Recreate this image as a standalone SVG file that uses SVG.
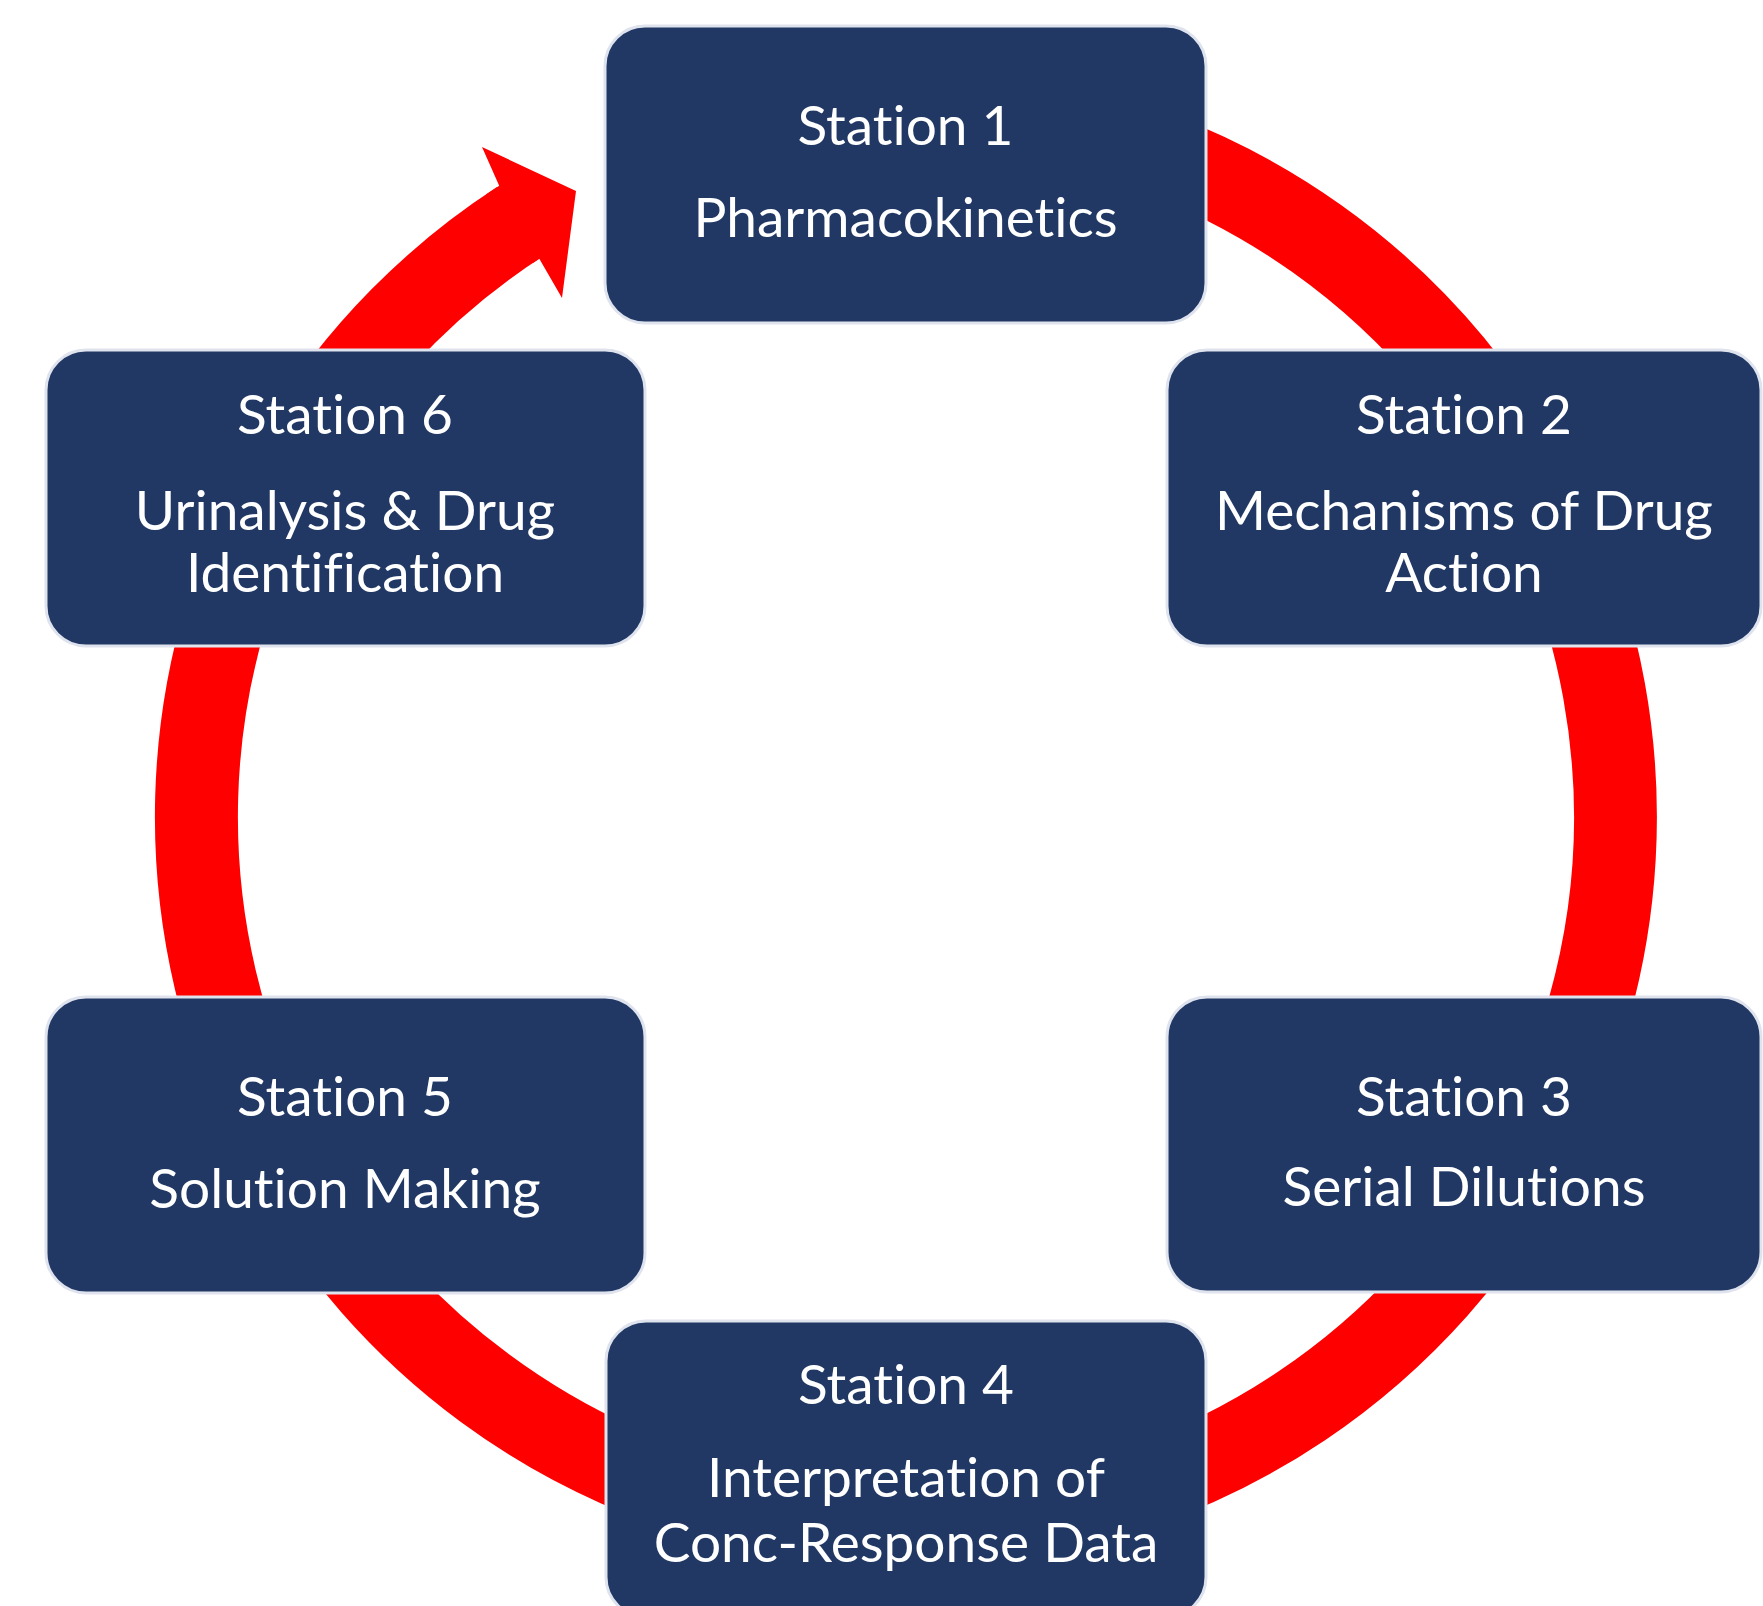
<svg xmlns="http://www.w3.org/2000/svg" width="1763" height="1606" viewBox="0 0 1763 1606">
<style>
.box{fill:#213865;stroke:#dfe3ee;stroke-width:3}
.t{font-family:Lato,"Liberation Sans",sans-serif;font-size:55px;fill:#ffffff;text-anchor:middle;font-variant-ligatures:none;font-feature-settings:"liga" 0}
</style>
<rect width="1763" height="1606" fill="#ffffff"/>
<g id="connectors">
<path d="M844.2,110.2 A709.5,709.5 0 1 1 519.6,221.9" fill="none" stroke="#ff0000" stroke-width="83"/>
<polygon points="532.5,263.2 486,194.4 499.2,185.7 482,147 576,191 562,298 539.3,258.7" fill="#ff0000"/>
</g>
<g id="station1">
<rect class="box" x="605" y="26" width="601" height="297" rx="40"/>
<text class="t" x="905.5" y="145">Station 1</text>
<text class="t" x="905.5" y="237">Pharmacokinetics</text>
</g>
<g id="station2">
<rect class="box" x="1167" y="350" width="594" height="296" rx="40"/>
<text class="t" x="1464" y="434">Station 2</text>
<text class="t" x="1464" y="530">Mechanisms of Drug</text>
<text class="t" x="1464" y="592">Action</text>
</g>
<g id="station3">
<rect class="box" x="1167" y="997" width="594" height="295" rx="40"/>
<text class="t" x="1464" y="1116">Station 3</text>
<text class="t" x="1464" y="1206">Serial Dilutions</text>
</g>
<g id="station4">
<rect class="box" x="606" y="1321" width="600" height="296" rx="40"/>
<text class="t" x="906" y="1404">Station 4</text>
<text class="t" x="906" y="1497">Interpretation of</text>
<text class="t" x="906" y="1562">Conc-Response Data</text>
</g>
<g id="station5">
<rect class="box" x="46" y="997" width="599" height="296" rx="40"/>
<text class="t" x="345" y="1116">Station 5</text>
<text class="t" x="345" y="1208">Solution Making</text>
</g>
<g id="station6">
<rect class="box" x="46" y="350" width="599" height="296" rx="40"/>
<text class="t" x="345" y="434">Station 6</text>
<text class="t" x="345" y="530">Urinalysis &amp; Drug</text>
<text class="t" x="345" y="592">Identification</text>
</g>
</svg>
